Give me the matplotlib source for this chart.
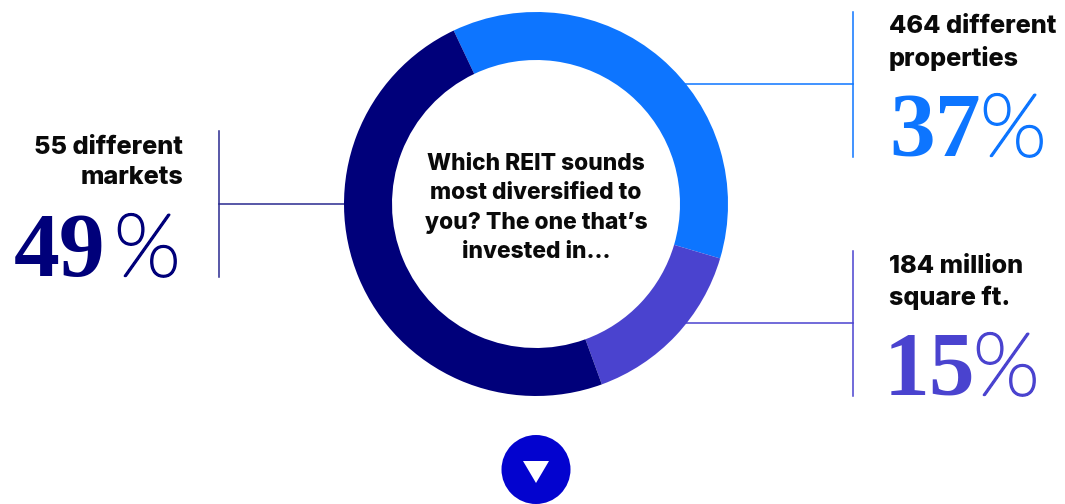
import matplotlib
matplotlib.use("Agg")
import matplotlib.pyplot as plt
import matplotlib.patheffects as pe
from matplotlib.patches import Circle, Polygon

# share of answers, clockwise from the top left of the ring
shares = [37, 15, 49]
ring_colors = ["#0d75ff", "#4a43cf", "#00007a"]
percent_labels = ["37", "15", "49"]
headings = ["464 different\nproperties", "184 million\nsquare ft.", "55 different\nmarkets"]
question = "Which REIT sounds\nmost diversified to\nyou? The one that\u2019s\ninvested in..."

W, H = 1065, 504
SANS = "Inter"
SERIF = "Liberation Serif"
SIGN = "Lato"
INK = "#0a0a0a"

fig = plt.figure(figsize=(W / 100, H / 100), dpi=100)
ax = fig.add_axes([0, 0, 1, 1])

# the y axis is flipped so pixel rows can be used directly,
# which also makes counterclock=True run clockwise on screen
cx, cy, radius = 536, 204, 192
ax.pie(shares, colors=ring_colors, startangle=-115.4, counterclock=True,
       center=(cx, cy), radius=radius, frame=False,
       wedgeprops={"width": 48, "linewidth": 0, "zorder": 3})
ax.set_xlim(0, W)
ax.set_ylim(H, 0)
ax.set_aspect("auto")
ax.axis("off")


def callout(x_bar, y0, y1, y_tick, x_tick, color):
    ax.plot([x_bar, x_bar], [y0, y1], color=color, lw=1.1, zorder=1)
    ax.plot([x_bar, x_tick], [y_tick, y_tick], color=color, lw=1.1, zorder=1)


def big_percent(x_digits, x_sign, y, digits, color):
    ax.text(x_digits, y, digits, family=SERIF, weight="bold", fontsize=66, color=color,
            ha="center", va="baseline")
    # hairline sign thickened with a stroke in the same colour
    ax.text(x_sign, y, "%", family=SIGN, weight="light", fontsize=63, color=color,
            ha="left", va="baseline",
            path_effects=[pe.withStroke(linewidth=1.7, foreground=color)])


callout(853, 12, 157, 84, 680, ring_colors[0])
callout(853, 251, 396, 323, 680, ring_colors[1])
callout(219, 131, 277, 204, 350, "#2a2a8f")

ax.text(889, 43, headings[0], family=SANS, weight=800, fontsize=18.2, color=INK,
        ha="left", va="center", linespacing=1.38)
ax.text(889, 282.5, headings[1], family=SANS, weight=800, fontsize=18.2, color=INK,
        ha="left", va="center", linespacing=1.38)
ax.text(183, 162.5, headings[2], family=SANS, weight=800, fontsize=18.2, color=INK,
        ha="right", va="center", linespacing=1.38)

big_percent(935, 980, 156, percent_labels[0], ring_colors[0])
big_percent(929, 973, 395, percent_labels[1], ring_colors[1])
big_percent(60, 114, 276, percent_labels[2], ring_colors[2])

ax.text(536, 208, question, family=SANS, weight=800, fontsize=16.4, color=INK,
        ha="center", va="center", linespacing=1.42)

# round button with a down arrow
ax.add_patch(Circle((536, 469.5), 34.5, color="#0303cf", lw=0))
ax.add_patch(Polygon([(523, 461), (549, 461), (536, 483)], color="white", lw=0))

fig.savefig("out.png", dpi=100)
